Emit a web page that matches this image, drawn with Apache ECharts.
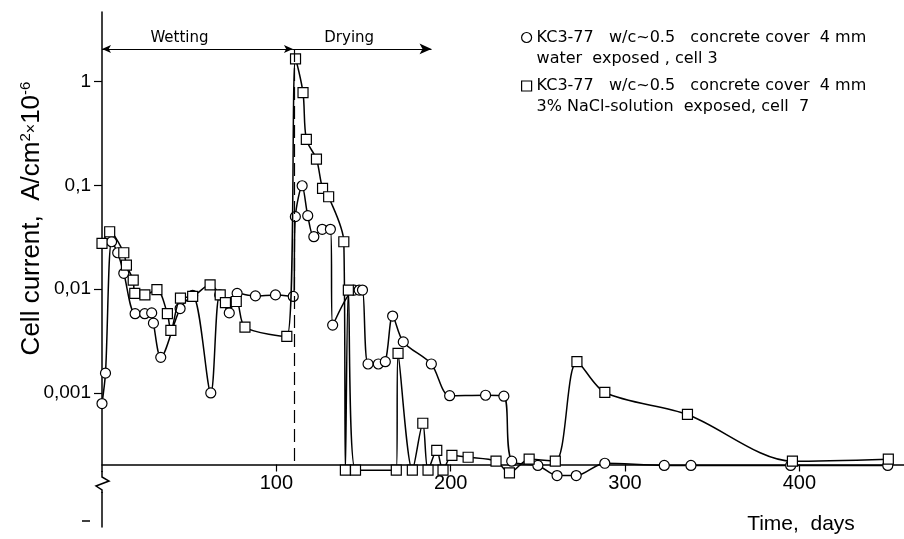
<!DOCTYPE html>
<html>
<head>
<meta charset="utf-8">
<title>Cell current KC3-77</title>
<script src="https://cdn.jsdelivr.net/npm/echarts@6/dist/echarts.min.js"></script>
</head>
<body style="margin:0;background:#fff;">
<div id="main" style="width:904px;height:539px;"></div>
<script type="text/javascript">
// circles: water exposed, cell 3
var waterDays = [0, 2, 5.5, 9, 12.5, 19, 24.5, 28.5, 29.5, 33.7, 44.8, 52, 62.4, 67.5, 73, 77.5, 88, 99.5,
    109.7, 110.9, 114.8, 118, 121.5, 126.3, 131, 132.3, 144.7, 147.5, 149.4, 152.6, 158.5, 162.5, 166.7,
    172.8, 188.9, 199.4, 220, 230.5, 235, 250, 261, 272, 288.4, 322.5, 337.8, 395, 450.7];
var waterCurrent = [0.00079, 0.00155, 0.0286, 0.0224, 0.0142, 0.0058, 0.0058, 0.0059, 0.0047, 0.0022, 0.0065, 0.0087, 0.001, 0.0088, 0.0059, 0.0091, 0.0086, 0.0088,
    0.0085, 0.0499, 0.099, 0.051, 0.032, 0.0377, 0.0377, 0.0045, 0.0098, 0.0098, 0.0098, 0.0019, 0.0019, 0.002, 0.0055,
    0.0031, 0.0019, 0.00094, 0.00095, 0.00093, 0.00022, 0.0002, 0.00016, 0.00016, 0.00021, 0.0002, 0.0002, 0.0002, 0.0002];

// squares: 3% NaCl-solution exposed, cell 7
var naclDays = [0, 4.4, 12.5, 14, 17.9, 18.8, 24.6, 31.5, 37.5, 39.5, 45, 52, 62, 67.8, 70.8, 77, 82, 106,
    111, 115.3, 117.2, 123, 126.5, 130, 138.7, 139.6, 141.3, 145.4, 168.8, 169.8, 178, 184, 187, 192, 195.6,
    200.7, 210, 226, 233.7, 245, 260, 272.4, 288.4, 335.8, 396, 451];
var naclCurrent = [0.0276, 0.0357, 0.0224, 0.017, 0.0122, 0.0091, 0.0088, 0.0099, 0.0058, 0.004, 0.0082, 0.0085, 0.011, 0.0088, 0.0074, 0.0076, 0.0043, 0.0035,
    1.65, 0.78, 0.277, 0.179, 0.0936, 0.0776, 0.0286, 0.00018, 0.0098, 0.00018, 0.00018, 0.0024, 0.00018, 0.00051, 0.00018, 0.00028, 0.00018,
    0.00025, 0.00024, 0.00022, 0.00017, 0.00023, 0.00022, 0.002, 0.00101, 0.00062, 0.00022, 0.00023];

var xTicks = [100, 200, 300, 400];
var yTicks = [0.001, 0.01, 0.1, 1];
var yTickLabels = ['0,001', '0,01', '0,1', '1'];

var wettingSpan = [0, 109.5];
var dryingSpan = [109.5, 189];
var switchDay = 110;
var arrowLevel = 2.06;
var baseLevel = 2.04e-4;

// leading blank line keeps the legend symbol level with the first text line
var waterName = ' \nKC3-77   w/c~0.5   concrete cover  4 mm\nwater  exposed , cell 3';
var naclName = ' \nKC3-77   w/c~0.5   concrete cover  4 mm\n3% NaCl-solution  exposed, cell  7';

function pairs(xs, ys) {
    var out = [];
    for (var i = 0; i < xs.length; i++) {
        out.push([xs[i], ys[i]]);
    }
    return out;
}

var font = 'Liberation Sans';
var thinFont = 'DejaVu Sans';

function legendBox(name, icon, top) {
    return {
        data: [{name: name, icon: icon, itemStyle: {color: '#fff', borderColor: '#000', borderWidth: 1.2}}],
        left: 521, top: top, padding: 0,
        itemWidth: 10, itemHeight: 10,
        selectedMode: false,
        textStyle: {fontFamily: thinFont, fontSize: 16, lineHeight: 21, color: '#000'}
    };
}

var myChart = echarts.init(document.getElementById('main'));
myChart.setOption({
    animation: false,
    backgroundColor: '#fff',
    textStyle: {fontFamily: font, color: '#000'},
    grid: {left: 102, right: 0, top: 12, bottom: 12, outerBoundsMode: 'none'},
    legend: [legendBox(waterName, 'circle', 6), legendBox(naclName, 'rect', 54.5)],
    xAxis: {
        type: 'value', min: 0, max: 460, offset: -62.5,
        axisLine: {onZero: false, lineStyle: {color: '#000', width: 1.5}},
        axisTick: {customValues: xTicks, length: 7, lineStyle: {color: '#000', width: 1.2}},
        axisLabel: {customValues: xTicks, fontSize: 20, margin: 9, color: '#000', fontFamily: font},
        splitLine: {show: false},
        name: 'Time,  days', nameLocation: 'end', nameGap: -103, nameMoveOverlap: false,
        nameTextStyle: {fontSize: 21, color: '#000', fontFamily: font, align: 'center', verticalAlign: 'top', padding: [49, 0, 0, 0]}
    },
    yAxis: {
        type: 'log', logBase: 10, min: 5.108e-5, max: 4.674,
        axisLine: {lineStyle: {color: '#000', width: 1.5}},
        axisTick: {customValues: yTicks, length: 8, lineStyle: {color: '#000', width: 1.2}},
        axisLabel: {
            customValues: yTicks, fontSize: 19, margin: 11, color: '#000', fontFamily: font,
            formatter: function (v) {
                for (var i = 0; i < yTicks.length; i++) {
                    if (Math.abs(Math.log10(v) - Math.log10(yTicks[i])) < 0.01) return yTickLabels[i];
                }
                return '';
            }
        },
        splitLine: {show: false},
        name: 'Cell current,  A/cm{sup|2}{x|×}10{sup|-6}',
        nameLocation: 'middle', nameRotate: 90, nameGap: 56, nameMoveOverlap: false,
        nameTextStyle: {
            fontSize: 26, color: '#000', fontFamily: font, padding: [0, 0, 0, 102],
            rich: {
                sup: {fontSize: 15, fontFamily: font, color: '#000', padding: [0, 0, 13, 0]},
                x: {fontSize: 16, fontFamily: font, color: '#000'}
            }
        }
    },
    graphic: [
        {type: 'rect', shape: {x: 98, y: 472, width: 8, height: 20}, style: {fill: '#fff'}, z: 100},
        {type: 'polyline', shape: {points: [[102, 471], [102, 477], [109, 481], [96, 486], [102, 490], [102, 493]]},
            style: {stroke: '#000', lineWidth: 1.5, fill: null}, z: 101},
        {type: 'line', shape: {x1: 82, y1: 521, x2: 90, y2: 521}, style: {stroke: '#000', lineWidth: 1.5}, z: 101}
    ],
    series: [
        {
            name: waterName, type: 'line', data: pairs(waterDays, waterCurrent),
            symbol: 'circle', symbolSize: 10, smooth: 0.3, clip: false, z: 3,
            lineStyle: {color: '#000', width: 1.5},
            itemStyle: {color: '#fff', borderColor: '#000', borderWidth: 1.2},
            emphasis: {disabled: true},
            markLine: {
                silent: true, symbol: 'none', animation: false,
                lineStyle: {color: '#000', width: 1.2, type: 'solid'},
                label: {show: false},
                emphasis: {disabled: true},
                data: [
                    [{coord: [switchDay, arrowLevel], lineStyle: {type: [13, 6], color: '#000', width: 1.2}}, {coord: [switchDay, baseLevel]}],
                    [{coord: [wettingSpan[0], arrowLevel], symbol: 'arrow', symbolSize: [6, 9],
                        label: {show: true, formatter: 'Wetting', position: 'middle', distance: 3, color: '#000', fontFamily: thinFont, fontSize: 15, padding: [0, 36, 0, 0]}},
                     {coord: [wettingSpan[1], arrowLevel], symbol: 'arrow', symbolSize: [6, 9]}],
                    [{coord: [dryingSpan[0], arrowLevel], symbol: 'none',
                        label: {show: true, formatter: 'Drying', position: 'middle', distance: 3, color: '#000', fontFamily: thinFont, fontSize: 15, padding: [0, 26, 0, 0]}},
                     {coord: [dryingSpan[1], arrowLevel], symbol: 'arrow', symbolSize: [8, 12]}]
                ]
            }
        },
        {
            name: naclName, type: 'line', data: pairs(naclDays, naclCurrent),
            symbol: 'rect', symbolSize: 10, smooth: 0.3, clip: false, z: 4,
            lineStyle: {color: '#000', width: 1.5},
            itemStyle: {color: '#fff', borderColor: '#000', borderWidth: 1.2},
            emphasis: {disabled: true}
        }
    ]
});
</script>
</body>
</html>
